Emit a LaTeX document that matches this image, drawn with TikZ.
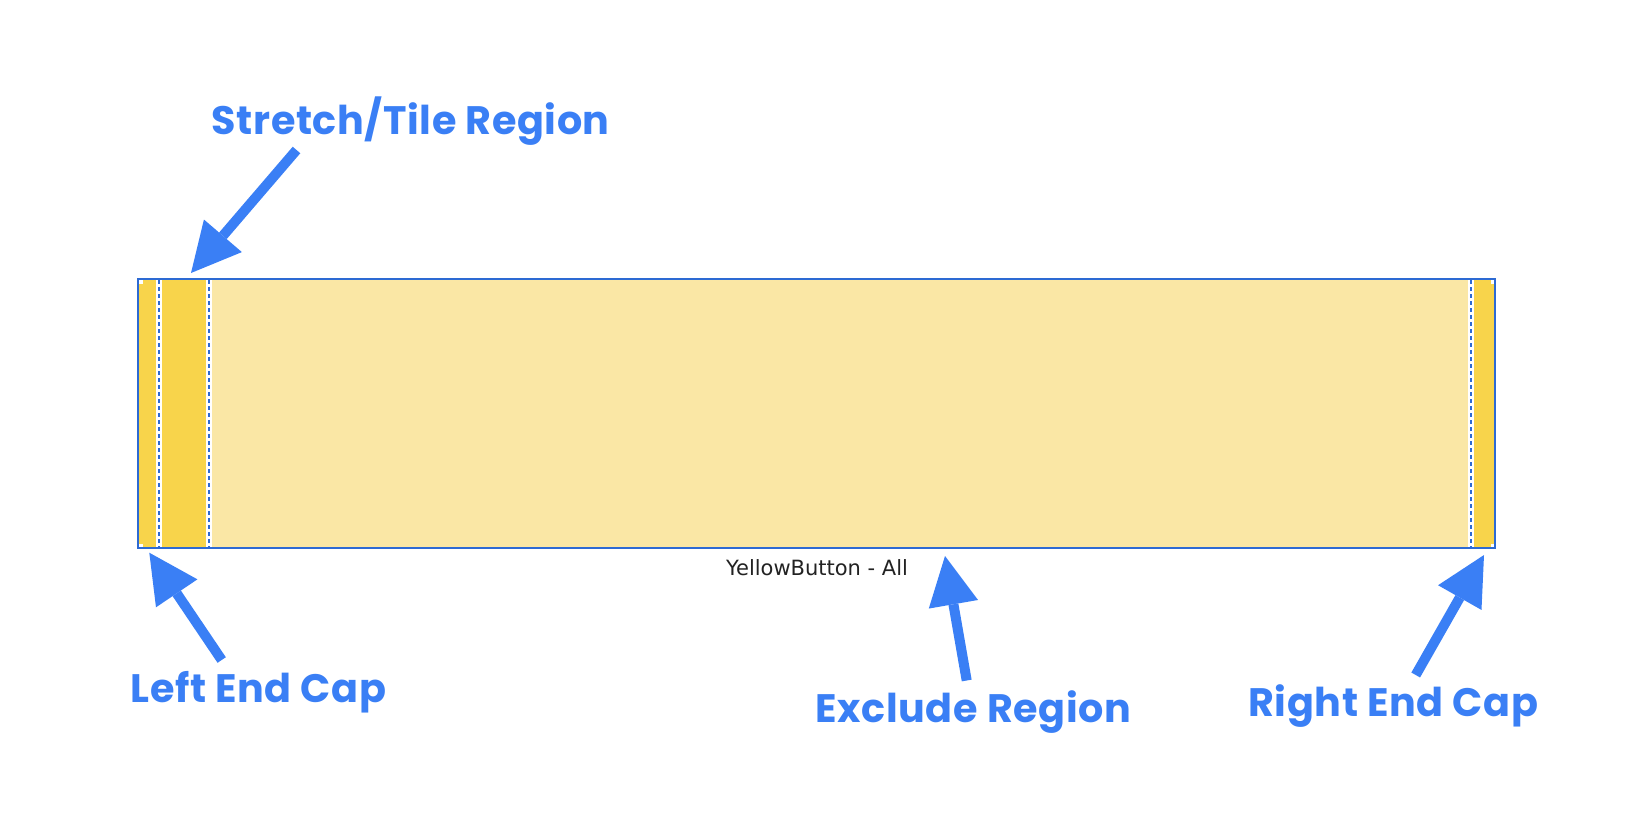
\documentclass[tikz,border=0pt]{standalone}
\usepackage{fontspec}
\usetikzlibrary{arrows.meta}
\newfontfamily\popfont{Poppins}[LetterSpace=1.5]
\newfontfamily\uifont{DejaVu Sans}
\definecolor{lblblue}{HTML}{3A7FF5}
\definecolor{bordblue}{HTML}{2D6AD3}
\definecolor{capyel}{HTML}{F8D44B}
\definecolor{midyel}{HTML}{FAE7A5}
\definecolor{namegray}{HTML}{222222}
\begin{document}
\begin{tikzpicture}[x=1bp,y=-1bp,
  lbl/.style={font=\popfont\bfseries\fontsize{39.7bp}{42bp}\selectfont, text=lblblue, inner sep=0pt, anchor=base west},
  namelbl/.style={font=\uifont\fontsize{21bp}{24bp}\selectfont, text=namegray, inner sep=0pt, anchor=base},
  bigarrow/.style={draw=lblblue, line width=10bp, line cap=butt,
     -{Triangle[width=50bp,length=49bp,line width=0pt]}},
  guide/.style={draw=bordblue, line width=2.2bp, dash pattern=on 4bp off 3bp},
  cornersq/.style={fill=white}]
\useasboundingbox (0,0) rectangle (1644,832);
% button image
\fill[midyel] (138,279) rectangle (1495,548);
\fill[capyel] (138,279) rectangle (155.7,548);
\fill[white] (155.7,279) rectangle (162,548);
\fill[capyel] (162,279) rectangle (206,548);
\fill[white] (206,279) rectangle (212,548);
\fill[white] (1468,279) rectangle (1474,548);
\fill[capyel] (1474,279) rectangle (1495,548);
% tiny corner squares
\fill[cornersq] (139,280) rectangle (142.5,283.5);
\fill[cornersq] (139,543.5) rectangle (142.5,547);
\fill[cornersq] (1490.5,280) rectangle (1494,283.5);
\fill[cornersq] (1490.5,543.5) rectangle (1494,547);
% slice guides
\draw[guide] (159,280) -- (159,547);
\draw[guide] (208.7,280) -- (208.7,547);
\draw[guide] (1471,280) -- (1471,547);
% border
\draw[bordblue, line width=1.8bp] (138,279) rectangle (1495,548);
% name
\node[namelbl] (name) at (817,575) {YellowButton - All};
% labels
\node[lbl] (stretch) at (211.7,134.3) {Stretch/Tile Region};
\node[lbl] (leftcap) at (130.7,702.7) {Left End Cap};
\node[lbl] (exclude) at (815.5,722.7) {Exclude Region};
\node[lbl] (rightcap) at (1248.3,716) {Right End Cap};
% arrows
\coordinate (s1) at (296.5,150);  \coordinate (t1) at (191,273);
\coordinate (s2) at (221.7,660);  \coordinate (t2) at (149.3,552.7);
\coordinate (s3) at (966.7,680.5);\coordinate (t3) at (945,556);
\coordinate (s4) at (1415.7,675); \coordinate (t4) at (1484,555);
\draw[bigarrow] (s1) -- (t1);
\draw[bigarrow] (s2) -- (t2);
\draw[bigarrow] (s3) -- (t3);
\draw[bigarrow] (s4) -- (t4);
\end{tikzpicture}
\end{document}
